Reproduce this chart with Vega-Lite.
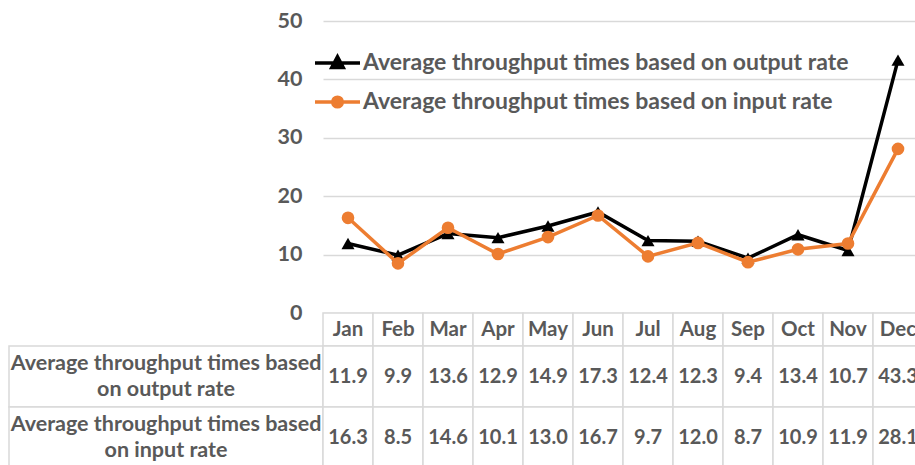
{
  "$schema": "https://vega.github.io/schema/vega-lite/v6.json",
  "padding": {"left": 8, "top": 10, "right": 0, "bottom": 0},
  "config": {"view": {"stroke": null}, "font": "Lato"},
  "columns": 2,
  "spacing": 0,
  "align": "each",
  "bounds": "flush",
  "datasets": {
    "main": [
      {"month": "Jan", "series": "Average throughput times based on output rate", "value": 11.9},
      {"month": "Feb", "series": "Average throughput times based on output rate", "value": 9.9},
      {"month": "Mar", "series": "Average throughput times based on output rate", "value": 13.6},
      {"month": "Apr", "series": "Average throughput times based on output rate", "value": 12.9},
      {"month": "May", "series": "Average throughput times based on output rate", "value": 14.9},
      {"month": "Jun", "series": "Average throughput times based on output rate", "value": 17.3},
      {"month": "Jul", "series": "Average throughput times based on output rate", "value": 12.4},
      {"month": "Aug", "series": "Average throughput times based on output rate", "value": 12.3},
      {"month": "Sep", "series": "Average throughput times based on output rate", "value": 9.4},
      {"month": "Oct", "series": "Average throughput times based on output rate", "value": 13.4},
      {"month": "Nov", "series": "Average throughput times based on output rate", "value": 10.7},
      {"month": "Dec", "series": "Average throughput times based on output rate", "value": 43.3},
      {"month": "Jan", "series": "Average throughput times based on input rate", "value": 16.3},
      {"month": "Feb", "series": "Average throughput times based on input rate", "value": 8.5},
      {"month": "Mar", "series": "Average throughput times based on input rate", "value": 14.6},
      {"month": "Apr", "series": "Average throughput times based on input rate", "value": 10.1},
      {"month": "May", "series": "Average throughput times based on input rate", "value": 13.0},
      {"month": "Jun", "series": "Average throughput times based on input rate", "value": 16.7},
      {"month": "Jul", "series": "Average throughput times based on input rate", "value": 9.7},
      {"month": "Aug", "series": "Average throughput times based on input rate", "value": 12.0},
      {"month": "Sep", "series": "Average throughput times based on input rate", "value": 8.7},
      {"month": "Oct", "series": "Average throughput times based on input rate", "value": 10.9},
      {"month": "Nov", "series": "Average throughput times based on input rate", "value": 11.9},
      {"month": "Dec", "series": "Average throughput times based on input rate", "value": 28.1}
    ],
    "seriesList": [
      {"series": "Average throughput times based on output rate"},
      {"series": "Average throughput times based on input rate"}
    ]
  },
  "concat": [
    {
      "width": 314,
      "height": 292,
      "data": {"values": [{}]},
      "mark": {"type": "text", "text": ""},
      "encoding": {}
    },
    {
      "width": 600,
      "height": 292,
      "data": {"name": "main"},
      "encoding": {
        "x": {"field": "month", "type": "ordinal", "sort": ["Jan","Feb","Mar","Apr","May","Jun","Jul","Aug","Sep","Oct","Nov","Dec"], "scale": {"type": "point", "padding": 0.5}, "axis": null},
        "y": {"field": "value", "type": "quantitative", "scale": {"domain": [0, 50], "nice": false},
          "axis": {"values": [0, 10, 20, 30, 40, 50], "title": null, "domain": false, "ticks": false, "labelPadding": 21, "labelFontSize": 21.5, "labelFont": "Lato", "labelFontWeight": "bold", "labelColor": "#595959", "gridColor": "#D9D9D9", "gridWidth": 1.5}},
        "color": {"field": "series", "type": "nominal",
          "scale": {"domain": ["Average throughput times based on output rate", "Average throughput times based on input rate"], "range": ["#000000", "#ED7D31"]},
          "legend": {
            "orient": "none", "legendX": 311.5, "legendY": 25, "title": null, "padding": 0, "rowPadding": 10,
            "symbolSize": 900, "labelOffset": 8.5, "labelFontSize": 23, "labelFont": "Lato", "labelFontWeight": "bold", "labelColor": "#595959", "labelLimit": 0,
            "symbolStrokeWidth": 3.5,
            "encode": {"symbols": {"update": {
              "shape": {"signal": "datum.value === 'Average throughput times based on output rate' ? 'M-1.5,0H1.5M0,-0.42L0.38,0.3L-0.38,0.3Z' : 'M-1.5,0H1.5M0.32,0A0.32,0.32 0 1 1 -0.32,0A0.32,0.32 0 1 1 0.32,0Z'"},
              "fill": {"signal": "datum.value === 'Average throughput times based on output rate' ? '#000000' : '#ED7D31'"},
              "stroke": {"signal": "datum.value === 'Average throughput times based on output rate' ? '#000000' : '#ED7D31'"},
              "strokeWidth": {"value": 3.5},
              "opacity": {"value": 1}
            }}}
          }}
      },
      "layer": [
        {"transform": [{"filter": "datum.series === 'Average throughput times based on output rate'"}], "mark": {"type": "line", "strokeWidth": 3.5}},
        {"transform": [{"filter": "datum.series === 'Average throughput times based on output rate'"}], "mark": {"type": "point", "shape": "triangle-up", "filled": true, "size": 170, "opacity": 1}},
        {"transform": [{"filter": "datum.series === 'Average throughput times based on input rate'"}], "mark": {"type": "line", "strokeWidth": 3.5}},
        {"transform": [{"filter": "datum.series === 'Average throughput times based on input rate'"}], "mark": {"type": "point", "shape": "circle", "filled": true, "size": 160, "opacity": 1}}
      ]
    },
    {
      "width": 314,
      "height": 33,
      "data": {"values": [{}]},
      "mark": {"type": "text", "text": ""},
      "encoding": {}
    },
    {
      "width": 600,
      "height": 33,
      "data": {"name": "main"},
      "transform": [{"filter": "datum.series === 'Average throughput times based on output rate'"}],
      "encoding": {
        "x": {"field": "month", "type": "ordinal", "sort": ["Jan","Feb","Mar","Apr","May","Jun","Jul","Aug","Sep","Oct","Nov","Dec"], "scale": {"paddingInner": 0, "paddingOuter": 0}, "axis": null}
      },
      "layer": [
        {"mark": {"type": "rect", "fill": "#FFFFFF", "stroke": "#D9D9D9", "strokeWidth": 1.5}},
        {"mark": {"type": "text", "fontSize": 20.5, "fontWeight": "bold", "color": "#595959", "font": "Lato"}, "encoding": {"text": {"field": "month"}}}
      ]
    },
    {
      "width": 314,
      "height": 122,
      "data": {"name": "seriesList"},
      "transform": [{"calculate": "replace(datum.series, ' on ', '\\non ')", "as": "label"}],
      "encoding": {
        "y": {"field": "series", "type": "nominal", "scale": {"domain": ["Average throughput times based on output rate", "Average throughput times based on input rate"], "paddingInner": 0, "paddingOuter": 0}, "axis": null}
      },
      "layer": [
        {"mark": {"type": "rect", "fill": "#FFFFFF", "stroke": "#D9D9D9", "strokeWidth": 1.5}},
        {"mark": {"type": "text", "fontSize": 21.5, "fontWeight": "bold", "color": "#595959", "font": "Lato", "lineBreak": "\n", "lineHeight": 26, "dy": -13}, "encoding": {"text": {"field": "label"}}}
      ]
    },
    {
      "width": 600,
      "height": 122,
      "data": {"name": "main"},
      "encoding": {
        "x": {"field": "month", "type": "ordinal", "sort": ["Jan","Feb","Mar","Apr","May","Jun","Jul","Aug","Sep","Oct","Nov","Dec"], "scale": {"paddingInner": 0, "paddingOuter": 0}, "axis": null},
        "y": {"field": "series", "type": "nominal", "scale": {"domain": ["Average throughput times based on output rate", "Average throughput times based on input rate"], "paddingInner": 0, "paddingOuter": 0}, "axis": null}
      },
      "layer": [
        {"mark": {"type": "rect", "fill": "#FFFFFF", "stroke": "#D9D9D9", "strokeWidth": 1.5}},
        {"mark": {"type": "text", "fontSize": 20, "fontWeight": "bold", "color": "#595959", "font": "Lato"}, "encoding": {"text": {"field": "value", "format": ".1f"}}}
      ]
    }
  ]
}
